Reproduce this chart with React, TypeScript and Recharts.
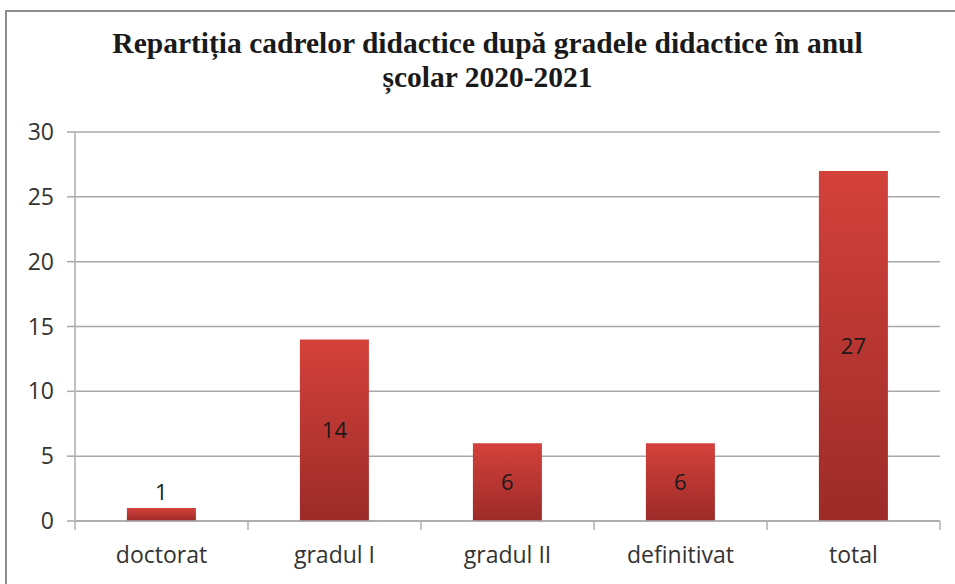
import React from "react";
import { BarChart, Bar, XAxis, YAxis, CartesianGrid, LabelList } from "recharts";

const categories = ["doctorat", "gradul I", "gradul II", "definitivat", "total"];
const values = [1, 14, 6, 6, 27];
const yTicks = [0, 5, 10, 15, 20, 25, 30];
const titleLines = [
  "Repartiția cadrelor didactice după gradele didactice în anul",
  "școlar 2020-2021",
];

const data = categories.map((name, i) => ({ name, value: values[i] }));

const AXIS_FONT = "'Open Sans', 'DejaVu Sans', sans-serif";
const TICK_SIZE = 9;
const TICK_MARGIN = 17;

// Excel-style ticks: marks sit on category boundaries, not centres
const BandTick = (props: any) => {
  const { x, y, payload, index, visibleTicksCount } = props;
  const half = payload?.offset ?? 0;
  const axisY = y - TICK_SIZE - TICK_MARGIN;
  const isLast = index === visibleTicksCount - 1;
  return (
    <g>
      <line x1={x - half} x2={x - half} y1={axisY} y2={axisY + TICK_SIZE} stroke="#b0b0b0" strokeWidth={1.5} />
      {isLast && (
        <line x1={x + half} x2={x + half} y1={axisY} y2={axisY + TICK_SIZE} stroke="#b0b0b0" strokeWidth={1.5} />
      )}
      <text x={x} y={y} dy="0.71em" textAnchor="middle" fill="#333" fontSize={23} fontFamily={AXIS_FONT}>
        {payload.value}
      </text>
    </g>
  );
};

const ValueLabel = (props: any) => {
  const { x, y, width, height, value } = props;
  const small = height < 30;
  return (
    <text
      x={x + width / 2}
      y={small ? y - 8 : y + height / 2}
      dy={small ? 0 : "0.36em"}
      textAnchor="middle"
      fill="#1a1a1a"
      fontSize={22}
      fontFamily={AXIS_FONT}
    >
      {value}
    </text>
  );
};

export default function App() {
  return (
    <div style={{ position: "absolute", left: 0, top: 0, width: 955, height: 584, overflow: "hidden", background: "#fff" }}>
      <div
        style={{
          position: "absolute",
          left: 5,
          top: 10,
          width: 1000,
          height: 700,
          border: "2px solid #8c8c8c",
        }}
      />
      <div
        style={{
          position: "absolute",
          left: 0,
          top: 26,
          width: 975,
          textAlign: "center",
          fontFamily: "'Liberation Serif', 'Times New Roman', serif",
          fontWeight: "bold",
          fontSize: 29.5,
          lineHeight: "34px",
          color: "#1a1a1a",
        }}
      >
        {titleLines.map((t) => (
          <div key={t}>{t}</div>
        ))}
      </div>
      <div style={{ position: "absolute", left: 0, top: 0 }}>
        <BarChart
          width={955}
          height={584}
          data={data}
          margin={{ top: 132, right: 15, left: 8, bottom: 23 }}
          barCategoryGap="30%"
        >
          <defs>
            <linearGradient id="barGrad" x1="0" y1="0" x2="0" y2="1">
              <stop offset="0%" stopColor="#d4413b" />
              <stop offset="100%" stopColor="#9c2b28" />
            </linearGradient>
          </defs>
          <CartesianGrid vertical={false} stroke="#a8a8a8" strokeWidth={1.5} />
          <XAxis
            dataKey="name"
            height={40}
            axisLine={{ stroke: "#a8a8a8", strokeWidth: 1.5 }}
            tickLine={false}
            tickSize={TICK_SIZE}
            tickMargin={TICK_MARGIN}
            tick={<BandTick />}
            interval={0}
          />
          <YAxis
            width={67}
            domain={[0, 30]}
            ticks={yTicks}
            axisLine={{ stroke: "#c0c0c0", strokeWidth: 2 }}
            tickLine={{ stroke: "#a8a8a8", strokeWidth: 1.5 }}
            tickSize={8}
            tickMargin={13}
            tick={{ fill: "#333", fontSize: 23, fontFamily: AXIS_FONT }}
          />
          <Bar dataKey="value" fill="url(#barGrad)" isAnimationActive={false}>
            <LabelList dataKey="value" content={<ValueLabel />} />
          </Bar>
        </BarChart>
      </div>
    </div>
  );
}
